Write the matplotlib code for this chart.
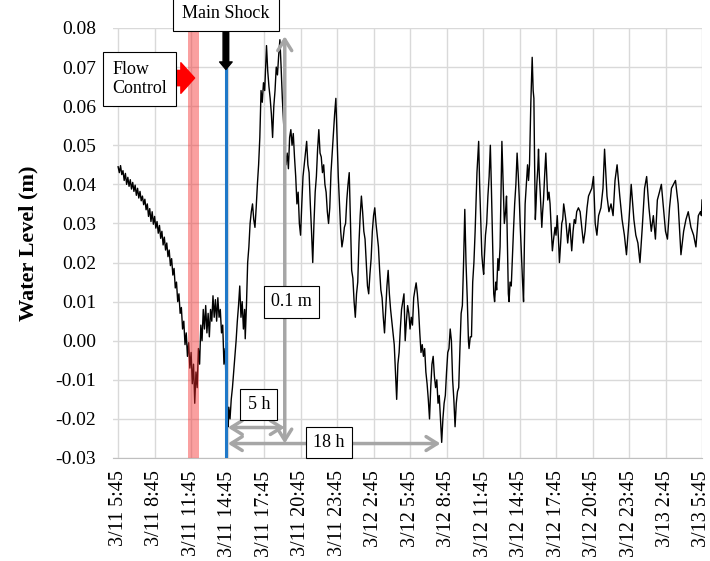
import matplotlib
matplotlib.use("Agg")
import matplotlib.pyplot as plt

# hours after 3/11 5:45 and water level (m)
hours = [
    0.00, 0.10, 0.20, 0.30, 0.40, 0.50, 0.60, 0.70, 0.80, 0.90,
    1.00, 1.10, 1.20, 1.30, 1.40, 1.50, 1.60, 1.70, 1.80, 1.90,
    2.00, 2.10, 2.20, 2.30, 2.40, 2.50, 2.60, 2.70, 2.80, 2.90,
    3.00, 3.10, 3.20, 3.30, 3.40, 3.50, 3.60, 3.70, 3.80, 3.90,
    4.00, 4.10, 4.20, 4.30, 4.40, 4.50, 4.60, 4.70, 4.80, 4.90,
    5.00, 5.10, 5.20, 5.30, 5.40, 5.50, 5.60, 5.70, 5.80, 5.90,
    6.00, 6.10, 6.20, 6.30, 6.40, 6.50, 6.60, 6.70, 6.80, 6.90,
    7.00, 7.10, 7.20, 7.30, 7.40, 7.50, 7.60, 7.70, 7.80, 7.90,
    8.00, 8.10, 8.20, 8.30, 8.40, 8.50, 8.60, 8.70, 8.80, 8.90,
    9.00, 9.05, 9.10, 9.20, 9.30, 9.40, 9.50, 9.60, 9.70, 9.80,
    9.90, 10.00, 10.10, 10.20, 10.30, 10.40, 10.45, 10.55, 10.65, 10.75,
    10.85, 10.95, 11.05, 11.15, 11.25, 11.35, 11.45, 11.55, 11.65, 11.75,
    11.85, 11.95, 12.05, 12.15, 12.20, 12.30, 12.40, 12.50, 12.60, 12.70,
    12.80, 12.90, 13.00, 13.10, 13.20, 13.30, 13.40, 13.50, 13.60, 13.70,
    13.80, 13.90, 14.00, 14.10, 14.20, 14.30, 14.40, 14.50, 14.60, 14.70,
    14.80, 14.90, 15.00, 15.10, 15.20, 15.30, 15.40, 15.50, 15.60, 15.70,
    15.80, 15.90, 16.00, 16.10, 16.20, 16.30, 16.40, 16.50, 16.60, 16.70,
    16.80, 16.90, 17.00, 17.10, 17.20, 17.30, 17.40, 17.50, 17.60, 17.70,
    17.80, 17.90, 18.00, 18.10, 18.20, 18.30, 18.40, 18.50, 18.60, 18.70,
    18.80, 18.90, 19.00, 19.10, 19.20, 19.30, 19.40, 19.50, 19.60, 19.70,
    19.80, 19.90, 20.00, 20.10, 20.20, 20.30, 20.40, 20.50, 20.60, 20.70,
    20.80, 20.90, 21.00, 21.10, 21.20, 21.30, 21.40, 21.50, 21.60, 21.70,
    21.80, 21.90, 22.00, 22.10, 22.20, 22.30, 22.40, 22.50, 22.60, 22.70,
    22.80, 22.90, 23.00, 23.10, 23.20, 23.30, 23.40, 23.50, 23.60, 23.70,
    23.80, 23.90, 24.00, 24.10, 24.20, 24.30, 24.40, 24.50, 24.60, 24.70,
    24.80, 24.90, 25.00, 25.10, 25.20, 25.30, 25.40, 25.50, 25.60, 25.70,
    25.80, 25.90, 26.00, 26.10, 26.20, 26.30, 26.40, 26.50, 26.60, 26.70,
    26.80, 26.90, 27.00, 27.10, 27.20, 27.30, 27.40, 27.50, 27.60, 27.70,
    27.80, 27.90, 28.00, 28.10, 28.20, 28.30, 28.40, 28.50, 28.60, 28.70,
    28.80, 28.85, 28.95, 29.05, 29.15, 29.25, 29.35, 29.50, 29.64, 29.72,
    29.80, 29.90, 29.98, 30.05, 30.12, 30.20, 30.30, 30.40, 30.50, 30.60,
    30.68, 30.75, 30.82, 30.88, 30.95, 31.05, 31.12, 31.22, 31.30, 31.40,
    31.48, 31.55, 31.65, 31.75, 31.85, 31.93, 32.00, 32.08, 32.14, 32.22,
    32.32, 32.42, 32.50, 32.60, 32.70, 32.80, 32.90, 32.97, 33.05, 33.14,
    33.25, 33.33, 33.40, 33.46, 33.56, 33.66, 33.74, 33.82, 33.93, 34.04,
    34.12, 34.18, 34.24, 34.30, 34.36, 34.42, 34.50, 34.56, 34.63, 34.70,
    34.77, 34.83, 34.90, 34.97, 35.06, 35.16, 35.24, 35.32, 35.42, 35.51,
    35.60, 35.70, 35.80, 35.92, 36.00, 36.10, 36.20, 36.28, 36.38, 36.47,
    36.55, 36.63, 36.72, 36.80, 36.88, 36.96, 37.05, 37.13, 37.22, 37.29,
    37.40, 37.50, 37.60, 37.70, 37.84, 37.98, 38.25, 38.39, 38.55, 38.67,
    38.94, 39.08, 39.22, 39.36, 39.50, 39.69, 39.86, 39.99, 40.19, 40.35,
    40.52, 40.69, 40.85, 41.02, 41.24, 41.43, 41.62, 41.79, 41.98, 42.18,
    42.40, 42.56, 42.73, 42.90, 43.09, 43.28, 43.45, 43.64, 43.83, 44.00,
    44.17, 44.33, 44.50, 44.66, 44.83, 45.00, 45.16, 45.33, 45.49, 45.66,
    45.82, 46.04, 46.27, 46.49, 46.68, 46.87, 47.09, 47.31, 47.50, 47.70,
    47.87, 47.95, 48.00,
]
level = [
    0.0445, 0.0430, 0.0448, 0.0425, 0.0435, 0.0410, 0.0428, 0.0400, 0.0418, 0.0395,
    0.0412, 0.0388, 0.0405, 0.0382, 0.0398, 0.0372, 0.0390, 0.0365, 0.0382, 0.0358,
    0.0370, 0.0348, 0.0362, 0.0335, 0.0350, 0.0318, 0.0338, 0.0305, 0.0330, 0.0298,
    0.0318, 0.0288, 0.0305, 0.0275, 0.0295, 0.0262, 0.0280, 0.0245, 0.0265, 0.0232,
    0.0250, 0.0215, 0.0232, 0.0192, 0.0210, 0.0168, 0.0185, 0.0135, 0.0150, 0.0100,
    0.0120, 0.0070, 0.0085, 0.0030, 0.0050, -0.0010, 0.0020, -0.0040, -0.0005, -0.0070,
    -0.0030, -0.0110, -0.0060, -0.0160, -0.0080, -0.0120, -0.0020, -0.0060, 0.0040, 0.0000,
    0.0080, 0.0030, 0.0090, 0.0020, 0.0070, 0.0010, 0.0080, 0.0050, 0.0115, 0.0060,
    0.0105, 0.0050, 0.0110, 0.0060, 0.0080, 0.0020, 0.0040, -0.0060, -0.0020, -0.0150,
    -0.0210, -0.0220, -0.0170, -0.0200, -0.0150, -0.0120, -0.0080, -0.0040, 0.0000, 0.0050,
    0.0090, 0.0140, 0.0060, 0.0100, 0.0030, 0.0080, 0.0005, 0.0090, 0.0200, 0.0240,
    0.0300, 0.0330, 0.0350, 0.0310, 0.0290, 0.0340, 0.0400, 0.0450, 0.0520, 0.0640,
    0.0610, 0.0660, 0.0640, 0.0720, 0.0755, 0.0690, 0.0650, 0.0620, 0.0580, 0.0520,
    0.0600, 0.0640, 0.0700, 0.0680, 0.0730, 0.0770, 0.0700, 0.0620, 0.0560, 0.0500,
    0.0450, 0.0480, 0.0440, 0.0520, 0.0540, 0.0500, 0.0530, 0.0470, 0.0420, 0.0350,
    0.0380, 0.0300, 0.0270, 0.0350, 0.0420, 0.0450, 0.0480, 0.0510, 0.0450, 0.0430,
    0.0350, 0.0280, 0.0200, 0.0300, 0.0380, 0.0420, 0.0490, 0.0540, 0.0480, 0.0470,
    0.0430, 0.0450, 0.0400, 0.0380, 0.0330, 0.0300, 0.0340, 0.0430, 0.0480, 0.0530,
    0.0580, 0.0620, 0.0520, 0.0420, 0.0350, 0.0280, 0.0240, 0.0260, 0.0290, 0.0300,
    0.0360, 0.0400, 0.0430, 0.0300, 0.0180, 0.0160, 0.0100, 0.0060, 0.0120, 0.0150,
    0.0250, 0.0320, 0.0370, 0.0330, 0.0280, 0.0260, 0.0200, 0.0140, 0.0120, 0.0170,
    0.0210, 0.0280, 0.0320, 0.0340, 0.0300, 0.0270, 0.0240, 0.0180, 0.0130, 0.0110,
    0.0060, 0.0020, 0.0080, 0.0140, 0.0180, 0.0120, 0.0080, 0.0050, 0.0020, -0.0010,
    -0.0080, -0.0150, -0.0060, -0.0030, 0.0030, 0.0080, 0.0100, 0.0120, 0.0000, 0.0050,
    0.0090, 0.0070, 0.0030, 0.0060, 0.0040, 0.0110, 0.0130, 0.0148, 0.0120, 0.0080,
    0.0020, -0.0030, -0.0010, -0.0040, -0.0020, -0.0080, -0.0110, -0.0150, -0.0200, -0.0120,
    -0.0060, -0.0040, -0.0090, -0.0120, -0.0100, -0.0160, -0.0140, -0.0200, -0.0260, -0.0200,
    -0.0160, -0.0140, -0.0080, -0.0030, -0.0020, 0.0030, 0.0000, -0.0100, -0.0150, -0.0220,
    -0.0160, -0.0130, -0.0120, -0.0020, 0.0070, 0.0090, 0.0200, 0.0336, 0.0200, 0.0110,
    0.0000, -0.0020, 0.0010, 0.0010, 0.0150, 0.0200, 0.0280, 0.0430, 0.0510, 0.0400,
    0.0320, 0.0220, 0.0190, 0.0170, 0.0220, 0.0270, 0.0300, 0.0370, 0.0420, 0.0500,
    0.0400, 0.0300, 0.0200, 0.0120, 0.0100, 0.0150, 0.0130, 0.0210, 0.0180, 0.0240,
    0.0380, 0.0510, 0.0400, 0.0300, 0.0330, 0.0370, 0.0250, 0.0120, 0.0100, 0.0150,
    0.0140, 0.0220, 0.0280, 0.0350, 0.0400, 0.0480, 0.0420, 0.0370, 0.0300, 0.0230,
    0.0150, 0.0100, 0.0250, 0.0350, 0.0400, 0.0450, 0.0410, 0.0450, 0.0610, 0.0725,
    0.0640, 0.0620, 0.0450, 0.0310, 0.0350, 0.0400, 0.0440, 0.0490, 0.0420, 0.0380,
    0.0330, 0.0290, 0.0330, 0.0360, 0.0420, 0.0480, 0.0420, 0.0360, 0.0380, 0.0350,
    0.0290, 0.0230, 0.0260, 0.0290, 0.0270, 0.0320, 0.0260, 0.0200, 0.0250, 0.0300,
    0.0310, 0.0350, 0.0330, 0.0310, 0.0280, 0.0250, 0.0280, 0.0300, 0.0260, 0.0230,
    0.0280, 0.0310, 0.0300, 0.0330, 0.0340, 0.0330, 0.0250, 0.0280, 0.0340, 0.0370,
    0.0390, 0.0420, 0.0300, 0.0270, 0.0320, 0.0340, 0.0390, 0.0490, 0.0370, 0.0330,
    0.0350, 0.0320, 0.0410, 0.0450, 0.0370, 0.0310, 0.0270, 0.0220, 0.0300, 0.0400,
    0.0310, 0.0270, 0.0250, 0.0200, 0.0290, 0.0390, 0.0420, 0.0340, 0.0280, 0.0320,
    0.0260, 0.0360, 0.0380, 0.0400, 0.0340, 0.0280, 0.0260, 0.0340, 0.0390, 0.0400,
    0.0410, 0.0350, 0.0220, 0.0280, 0.0310, 0.0330, 0.0290, 0.0270, 0.0240, 0.0320,
    0.0330, 0.0320, 0.0360,
]

tick_hours = list(range(0, 49, 3))
tick_labels = [
    "3/11 5:45", "3/11 8:45", "3/11 11:45", "3/11 14:45", "3/11 17:45",
    "3/11 20:45", "3/11 23:45", "3/12 2:45", "3/12 5:45", "3/12 8:45",
    "3/12 11:45", "3/12 14:45", "3/12 17:45", "3/12 20:45", "3/12 23:45",
    "3/13 2:45", "3/13 5:45",
]
y_ticks = [-0.03, -0.02, -0.01, 0.00, 0.01, 0.02, 0.03, 0.04, 0.05, 0.06, 0.07, 0.08]

flow_control = (5.73, 6.64)   # shaded band (hours)
main_shock = 8.86             # hours
gray = "#a6a6a6"

plt.rcParams["font.family"] = ["Liberation Serif", "DejaVu Serif"]

fig = plt.figure(figsize=(7.1, 5.61), dpi=100)
ax = fig.add_axes([113 / 710, 1 - 458 / 561, 589 / 710, 430 / 561])

ax.plot(hours, level, color="black", lw=1.0, zorder=2)
ax.axvspan(*flow_control, color="#f52c2c", alpha=0.45, lw=0, zorder=3)
ax.plot([main_shock, main_shock], [-0.03, 0.0694], color="#1f78c8", lw=2.2, zorder=4)

ax.set_xlim(-0.42, 48.0)
ax.set_ylim(-0.03, 0.08)
ax.set_xticks(tick_hours)
ax.set_xticklabels(tick_labels, rotation=90, fontsize=14.5)
ax.set_yticks(y_ticks)
ax.set_yticklabels([f"{v:.2f}" for v in y_ticks], fontsize=14)
ax.tick_params(length=0, pad=12, axis="y")
ax.tick_params(length=0, pad=9, axis="x")
ax.grid(True, color="#d9d9d9", lw=1.0)
ax.set_axisbelow(True)
for s in ["top", "right", "left"]:
    ax.spines[s].set_visible(False)
ax.spines["bottom"].set_color("#bfbfbf")
ax.set_ylabel("Water Level (m)", fontsize=16, fontweight="bold", labelpad=12)

box = dict(boxstyle="square,pad=0.5", fc="white", ec="black", lw=0.8)

# Main Shock
ax.annotate("", xy=(main_shock, 0.0694), xytext=(main_shock, 0.0792),
            arrowprops=dict(arrowstyle="simple,head_length=0.6,head_width=1.0,tail_width=0.45",
                            color="black", shrinkA=0, shrinkB=0, mutation_scale=9),
            annotation_clip=False, zorder=6)
ax.text(main_shock, 0.0838, "Main Shock", fontsize=13, ha="center", va="center",
        bbox=box, zorder=7, clip_on=False)

# Flow Control
ax.annotate("", xy=(6.29, 0.0672), xytext=(4.81, 0.0672),
            arrowprops=dict(arrowstyle="simple,head_length=0.45,head_width=1.0,tail_width=0.5",
                            color="#ff0000", shrinkA=0, shrinkB=0, mutation_scale=22),
            annotation_clip=False, zorder=6)
ax.text(1.75, 0.0670, "Flow\nControl", fontsize=13, ha="center", va="center",
        multialignment="left", linespacing=1.15, bbox=box, zorder=7, clip_on=False)

# gray dimension arrows
arr = dict(arrowstyle="<->,head_length=0.4,head_width=0.25", color=gray, lw=2.5,
           shrinkA=0, shrinkB=0, mutation_scale=20)
ax.annotate("", xy=(13.7, 0.0779), xytext=(13.7, -0.0263), arrowprops=arr, zorder=5)
ax.annotate("", xy=(9.02, -0.0222), xytext=(13.7, -0.0222), arrowprops=arr, zorder=5)
ax.annotate("", xy=(9.02, -0.0263), xytext=(26.5, -0.0263), arrowprops=arr, zorder=5)

box_small = dict(boxstyle="square,pad=0.4", fc="white", ec="black", lw=0.8)
ax.text(14.24, 0.00995, "0.1 m", fontsize=13, ha="center", va="center", bbox=box_small, zorder=7)
ax.text(11.57, -0.0163, "5 h", fontsize=13, ha="center", va="center", bbox=box_small, zorder=7)
ax.text(17.33, -0.0260, "18 h", fontsize=13, ha="center", va="center", bbox=box_small, zorder=7)

fig.savefig("out.png", dpi=100)
